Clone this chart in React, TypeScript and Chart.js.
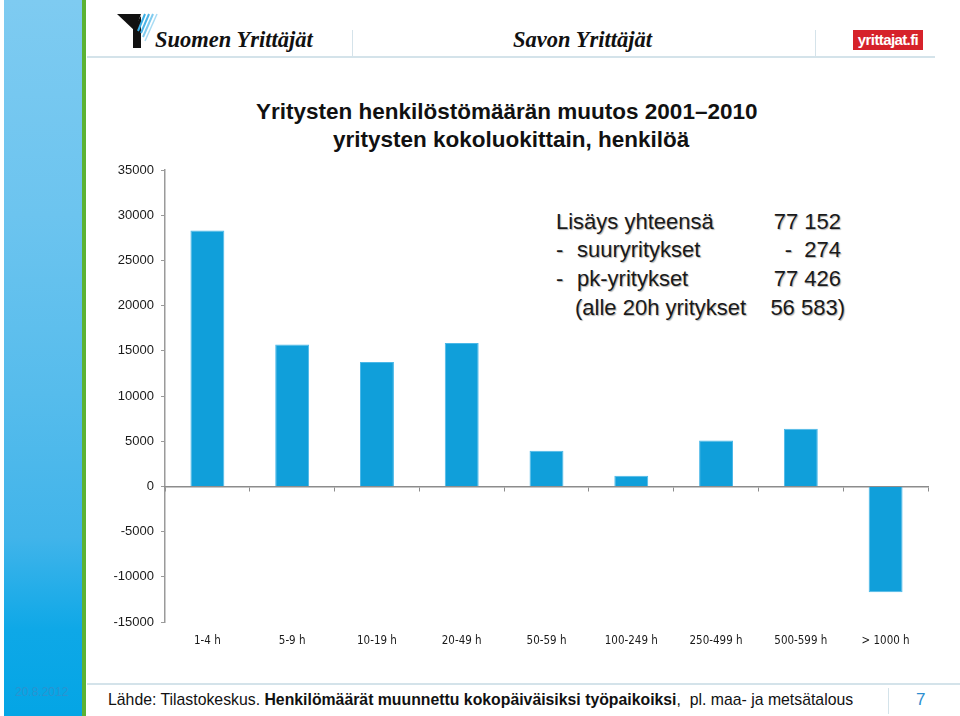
import React, { useEffect, useRef } from "react";
import { Chart, registerables } from "chart.js";

Chart.register(...registerables);

// ---- data ----
const categories = ["1-4 h", "5-9 h", "10-19 h", "20-49 h", "50-59 h", "100-249 h", "250-499 h", "500-599 h", "> 1000 h"];
const changeValues = [28300, 15700, 13750, 15850, 3950, 1180, 5080, 6380, -11720];
const yMin = -15000;
const yMax = 35000;
const yStep = 5000;

const titleLines = ["Yritysten henkilöstömäärän muutos 2001\u20132010", "yritysten kokoluokittain, henkilöä"];
const summaryLabels = ["Lisäys yhteensä", "-", "-", "(alle 20h yritykset"];
const summarySubLabels = ["", "suuryritykset", "pk-yritykset", ""];
const summaryValues = ["77 152", "-  274", "77 426", "56 583)"];

const BAR_COLOR = "#109fda";
const AXIS_COLOR = "#9a9a9a";

function BarChart() {
  const ref = useRef<HTMLCanvasElement | null>(null);
  useEffect(() => {
    if (!ref.current) return;
    const chart = new Chart(ref.current, {
      type: "bar",
      data: {
        labels: categories,
        datasets: [
          {
            data: changeValues,
            xAxisID: "x",
            yAxisID: "y",
            backgroundColor: BAR_COLOR,
            borderColor: "#4bb8e8",
            borderWidth: 1,
            barPercentage: 0.4,
            categoryPercentage: 1.0,
          },
        ],
      },
      options: {
        animation: false,
        responsive: false,
        maintainAspectRatio: false,
        layout: { padding: { top: 170, right: 32, left: 0, bottom: 54 } },
        plugins: {
          legend: { display: false },
          tooltip: { enabled: false },
          title: { display: false },
        },
        scales: {
          y: {
            type: "linear",
            position: "left",
            min: yMin,
            max: yMax,
            ticks: {
              stepSize: yStep,
              color: "#1a1a1a",
              font: { family: "'Liberation Sans', Arial, sans-serif", size: 13 },
              padding: 7,
              callback: (v: any) => String(v),
            },
            grid: { drawOnChartArea: false, drawTicks: true, tickLength: 4, color: AXIS_COLOR, lineWidth: 1 },
            border: { display: true, color: AXIS_COLOR, width: 1.5 },
            afterFit: (s: any) => {
              s.width = 165;
              s.paddingTop = 0;
              s.paddingBottom = 0;
            },
          },
          x: {
            type: "category",
            position: { y: 0 } as any,
            offset: true,
            ticks: { display: false },
            grid: { offset: true, drawOnChartArea: false, drawTicks: true, tickLength: 4, color: "#8c8c8c" },
            border: { display: true, color: "#8c8c8c", width: 1.5 },
          },
          x2: {
            type: "category",
            axis: "x",
            position: "bottom",
            labels: categories,
            offset: true,
            grid: { display: false, drawTicks: false, tickLength: 0, offset: true },
            border: { display: false },
            ticks: {
              color: "#1a1a1a",
              font: { family: "'Liberation Sans Narrow', 'DejaVu Sans Condensed', 'Liberation Sans', Arial, sans-serif", size: 11.5 },
              padding: 12,
              maxRotation: 0,
              autoSkip: false,
            },
            afterFit: (s: any) => {
              s.height = 40;
              s.paddingLeft = 0;
              s.paddingRight = 0;
            },
          },
        } as any,
      },
    });
    return () => chart.destroy();
  }, []);
  return (
    <canvas
      ref={ref}
      width={960}
      height={716}
      style={{ position: "absolute", left: 0, top: 0, width: 960, height: 716 }}
    />
  );
}

export default function App() {
  const abs = (s: React.CSSProperties): React.CSSProperties => ({ position: "absolute", ...s });
  const serifLogo: React.CSSProperties = {
    fontFamily: "'Liberation Serif', 'DejaVu Serif', serif",
    fontStyle: "italic",
    fontWeight: "bold",
    fontSize: 22.5,
    color: "#111",
    lineHeight: "24px",
    whiteSpace: "nowrap",
  };
  const sumStyle: React.CSSProperties = {
    fontFamily: "'Liberation Sans', Arial, sans-serif",
    fontSize: 22,
    color: "#1a1a1a",
    lineHeight: "26px",
    whiteSpace: "nowrap",
    textShadow: "1px 1px 1px rgba(0,0,0,0.3)",
  };
  const rowTop = [209, 237, 266, 295];
  return (
    <div
      style={{
        position: "absolute",
        left: 0,
        top: 0,
        width: 960,
        height: 716,
        background: "#fff",
        overflow: "hidden",
        fontFamily: "'Liberation Sans', Arial, sans-serif",
      }}
    >
      {/* left strip */}
      <div
        style={abs({
          left: 4,
          top: 0,
          width: 78,
          height: 716,
          background:
            "linear-gradient(to bottom, #7ecbf1 0%, #6cc4ef 30%, #56bcec 55%, #41b4ea 75%, #0ea8e7 88%, #04a5e5 100%)",
        })}
      />
      <div style={abs({ left: 82, top: 0, width: 4, height: 716, background: "#5cb233" })} />
      <div style={abs({ left: 15, top: 685, fontSize: 12, color: "#2a93d0", whiteSpace: "nowrap" })}>20.8.2012</div>

      {/* header */}
      <svg style={abs({ left: 114, top: 12, width: 46, height: 38 })} viewBox="0 0 46 38">
        <polygon points="3,2 27,2 21,19" fill="#111" />
        <polygon points="19,17 27,4 27,36 19,36" fill="#111" />
        <line x1="31" y1="2" x2="24" y2="19" stroke="#3aaee4" strokeWidth="2" />
        <line x1="35" y1="2" x2="27" y2="21" stroke="#4bb3e6" strokeWidth="2" />
        <line x1="39" y1="2" x2="29" y2="25" stroke="#7fcbef" strokeWidth="2" />
        <line x1="43" y1="2" x2="31" y2="29" stroke="#a9dcf4" strokeWidth="1.5" />
      </svg>
      <div style={{ ...abs({ left: 155, top: 28 }), ...serifLogo }}>Suomen Yrittäjät</div>
      <div style={abs({ left: 352, top: 30, width: 1, height: 26, background: "#d5e3ea" })} />
      <div style={{ ...abs({ left: 513, top: 28 }), ...serifLogo }}>Savon Yrittäjät</div>
      <div style={abs({ left: 815, top: 30, width: 1, height: 26, background: "#d5e3ea" })} />
      <div
        style={abs({
          left: 853,
          top: 30,
          width: 70,
          height: 20,
          background: "#d6222a",
          color: "#fff",
          fontWeight: "bold",
          fontSize: 15,
          lineHeight: "20px",
          textAlign: "center",
          whiteSpace: "nowrap",
          letterSpacing: -0.6,
        })}
      >
        yrittajat.fi
      </div>
      <div style={abs({ left: 87, top: 56, width: 848, height: 2, background: "#d4e3ea" })} />

      {/* title */}
      <div
        style={abs({
          left: 256,
          top: 98,
          fontSize: 22.5,
          fontWeight: "bold",
          color: "#111",
          lineHeight: "28px",
          whiteSpace: "nowrap",
        })}
      >
        {titleLines[0]}
      </div>
      <div
        style={abs({
          left: 333,
          top: 126,
          fontSize: 22.5,
          fontWeight: "bold",
          color: "#111",
          lineHeight: "28px",
          whiteSpace: "nowrap",
        })}
      >
        {titleLines[1]}
      </div>

      {/* summary box */}
      {summaryLabels.map((lab, i) => (
        <div key={"l" + i} style={{ ...abs({ left: i === 3 ? 575 : 556, top: rowTop[i] }), ...sumStyle }}>
          {lab}
        </div>
      ))}
      {summarySubLabels.map((lab, i) =>
        lab ? (
          <div key={"s" + i} style={{ ...abs({ left: 577, top: rowTop[i] }), ...sumStyle }}>
            {lab}
          </div>
        ) : null
      )}
      {summaryValues.map((v, i) => (
        <div
          key={"v" + i}
          style={{ ...abs({ right: i === 3 ? 960 - 845 : 960 - 841, top: rowTop[i] }), ...sumStyle, whiteSpace: "pre" }}
        >
          {v}
        </div>
      ))}

      {/* footer */}
      <div style={abs({ left: 87, top: 683, width: 873, height: 2, background: "#d4e3ea" })} />
      <div style={abs({ left: 888, top: 688, width: 1, height: 26, background: "#d4e3ea" })} />
      <div
        style={abs({
          left: 108,
          top: 689,
          fontSize: 17,
          color: "#111",
          lineHeight: "22px",
          whiteSpace: "pre",
          transform: "scaleX(0.93)",
          transformOrigin: "left center",
        })}
      >
        Lähde: Tilastokeskus. <b>Henkilömäärät muunnettu kokopäiväisiksi työpaikoiksi</b>,  pl. maa- ja metsätalous
      </div>
      <div style={abs({ left: 916, top: 689, fontSize: 17, color: "#2d8ed0", lineHeight: "22px" })}>7</div>

      <BarChart />
    </div>
  );
}
